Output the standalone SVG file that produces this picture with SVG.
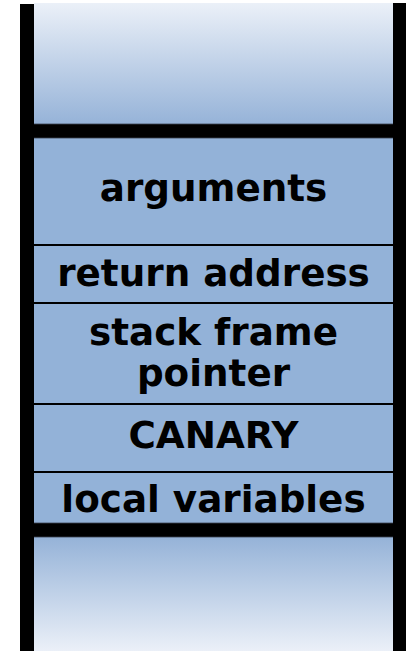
<svg xmlns="http://www.w3.org/2000/svg" width="406" height="651" viewBox="0 0 406 651">
  <defs>
    <linearGradient id="gTop" x1="0" y1="0" x2="0" y2="1">
      <stop offset="0" stop-color="#ebf0f8"/>
      <stop offset="1" stop-color="#93b1d7"/>
    </linearGradient>
    <linearGradient id="gBot" x1="0" y1="0" x2="0" y2="1">
      <stop offset="0" stop-color="#93b1d7"/>
      <stop offset="1" stop-color="#ebf0f8"/>
    </linearGradient>
    <style>
      .cell { fill: #93b2d8; }
      .sep { stroke: #000; stroke-width: 2; }
      .bar { fill: #000; stroke: #3a4350; stroke-width: 0.8; }
      .wall { fill: #000; }
      .lbl { font-family: "DejaVu Sans", "Verdana", sans-serif; font-weight: bold; font-size: 37.3px; fill: #000; text-anchor: middle; }
    </style>
  </defs>
  <rect width="406" height="651" fill="#fff"/>

  <g id="top-free">
    <rect x="34" y="3" width="359" height="125" fill="url(#gTop)"/>
  </g>
  <g id="bottom-free">
    <rect x="34" y="534" width="359" height="117" fill="url(#gBot)"/>
  </g>

  <g id="frame">
    <rect class="cell" x="34" y="136" width="359" height="390"/>
  </g>

  <g id="arguments">
    <text class="lbl" x="213.5" y="201">arguments</text>
  </g>
  <g id="return-address">
    <text class="lbl" x="213.5" y="286">return address</text>
  </g>
  <g id="stack-frame-pointer">
    <text class="lbl" x="213.5" y="345">stack frame</text>
    <text class="lbl" x="213.5" y="386">pointer</text>
  </g>
  <g id="canary">
    <text class="lbl" x="213.5" y="448">CANARY</text>
  </g>
  <g id="local-variables">
    <text class="lbl" x="213.5" y="512">local variables</text>
  </g>

  <g id="connectors">
    <line class="sep" x1="28" y1="245" x2="399" y2="245"/>
    <line class="sep" x1="28" y1="303" x2="399" y2="303"/>
    <line class="sep" x1="28" y1="404" x2="399" y2="404"/>
    <line class="sep" x1="28" y1="472" x2="399" y2="472"/>
    <polygon class="bar" points="27,131 34,124 393,124 400,131 393,138 34,138"/>
    <polygon class="bar" points="27,530 34,523 393,523 400,530 393,537 34,537"/>
    <rect class="wall" x="20" y="4" width="14" height="647"/>
    <rect class="wall" x="393" y="3" width="14" height="648"/>
  </g>
</svg>
